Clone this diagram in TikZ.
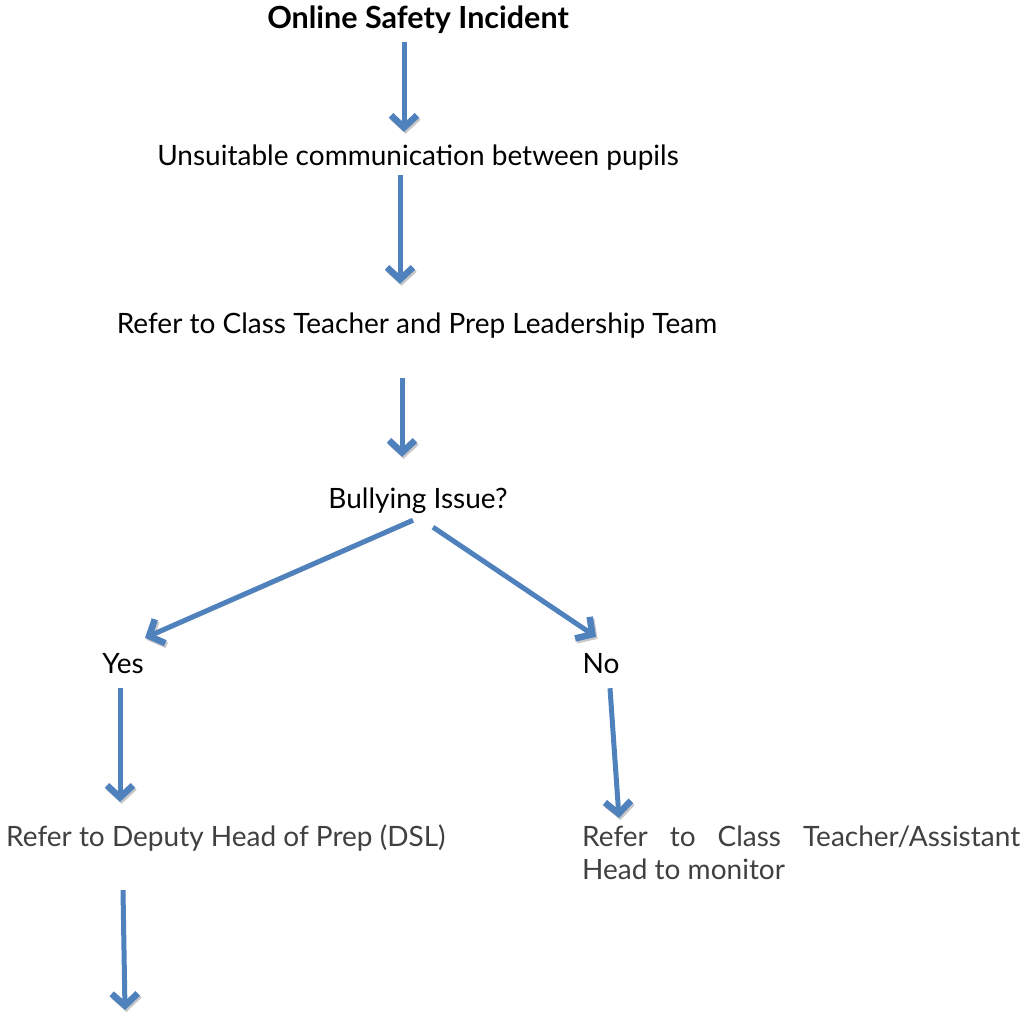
\documentclass[tikz,border=0pt]{standalone}
\usepackage{fontspec}
\setmainfont{Lato}
\usetikzlibrary{arrows.meta}
\definecolor{flowblue}{HTML}{4F81BD}
\definecolor{stepgrey}{HTML}{404040}

\begin{document}
\begin{tikzpicture}[x=1pt,y=-1pt,
  lbl/.style={inner sep=0pt,anchor=base,font=\fontsize{28}{33}\selectfont,
    text height=20pt,text depth=7pt},
  greylbl/.style={lbl,text=stepgrey},
  flow/.style={draw=flowblue,line width=5pt,
    -{Straight Barb[length=12pt,width=26pt,line width=6.5pt]},
    preaction={draw=black!22,transform canvas={shift={(1.5pt,-2pt)}}}}]
\useasboundingbox (0,0) rectangle (1023,1012);

\node[lbl,font=\fontsize{30.5}{33}\selectfont\bfseries] (incident) at (418,28) {Online Safety Incident};
\node[lbl] (unsuitable) at (418,165) {Unsuitable communication between pupils};
\node[lbl] (classteam) at (417,333) {Refer to Class Teacher and Prep Leadership Team};
\node[lbl] (bullying) at (418,508) {Bullying Issue?};
\node[lbl] (yes) at (123,673) {Yes};
\node[lbl] (no) at (601,673) {No};
\node[greylbl,anchor=base west] (dsl) at (6,846) {Refer to Deputy Head of Prep (DSL)};
\node[greylbl,anchor=north west,text width=438pt,align=justify,text height=,text depth=] (monitor) at (582,826)
  {Refer to Class Teacher/Assistant\linebreak Head to monitor};
\coordinate (onward) at (125,1010);

\draw[flow] ([shift={(-14,7)}]incident.south) -- ([shift={(-14,-13)}]unsuitable.north);
\draw[flow] ([shift={(-18,3)}]unsuitable.south) -- ([shift={(-17,-29)}]classteam.north);
\draw[flow] ([shift={(-15,38)}]classteam.south) -- ([shift={(-16,-31)}]bullying.north);
\draw[flow] ([shift={(-5,5)}]bullying.south) -- ([shift={(22,-15)}]yes.north);
\draw[flow] ([shift={(15,12)}]bullying.south) -- ([shift={(-5,-16)}]no.north);
\draw[flow] ([shift={(-3,8)}]yes.south) -- ([shift={(114,-24)}]dsl.north west);
\draw[flow] ([shift={(9,8)}]no.south) -- ([shift={(37,-8)}]monitor.north west);
\draw[flow] ([shift={(117,37)}]dsl.south west) -- (onward);
\end{tikzpicture}
\end{document}
